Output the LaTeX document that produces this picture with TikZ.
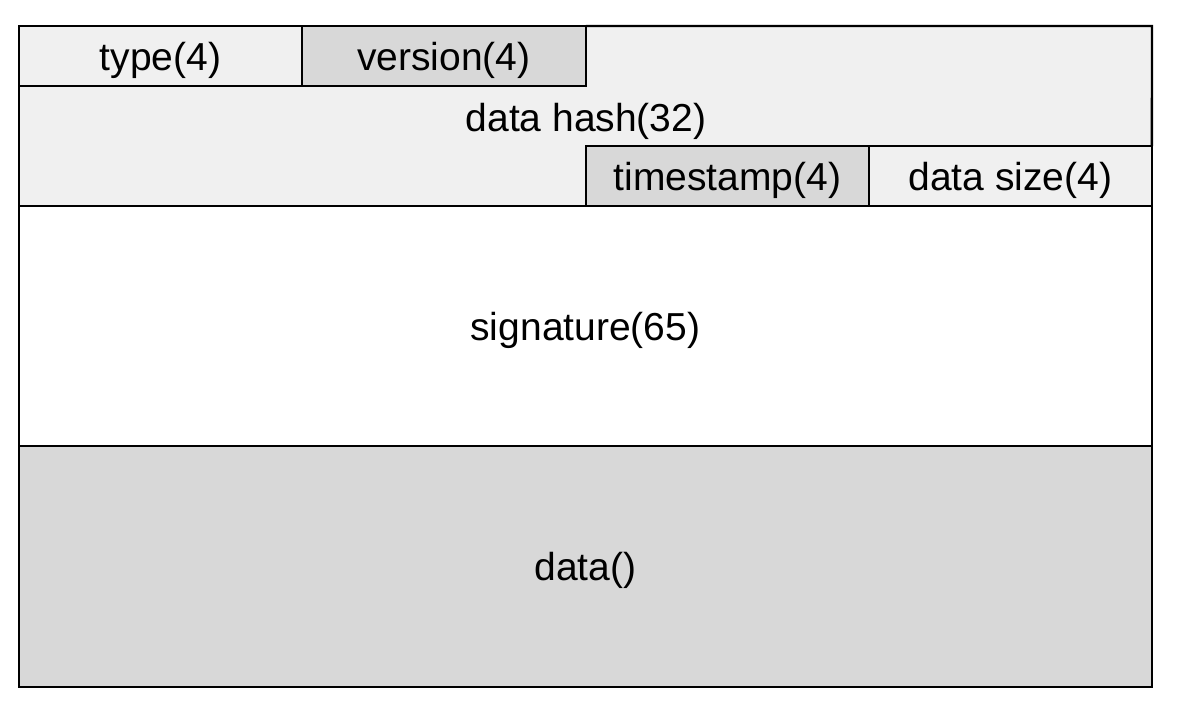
\documentclass[tikz,border=0pt]{standalone}
\usepackage{fontspec}
\setmainfont{Liberation Sans}
\definecolor{lightfield}{HTML}{F0F0F0}
\definecolor{darkfield}{HTML}{D8D8D8}
\tikzstyle{line}=[line width=1.4pt, line join=miter]
\tikzstyle{field}=[draw, line, inner sep=0pt, outer sep=0pt, text depth=0pt, anchor=north west, font=\fontsize{22.2}{26}\selectfont]
\tikzstyle{label}=[inner sep=0pt, text depth=0pt, font=\fontsize{22.2}{26}\selectfont]

\begin{document}
\begin{tikzpicture}[x=0.02cm, y=-0.02cm]
    \useasboundingbox (0,0) rectangle (1180,708);
    % data hash area (L-shaped)
    \fill [lightfield] (586,26) -- (1152,26) -- (1152,146) -- (586,146) -- (586,206)
        -- (19,206) -- (19,86) -- (586,86) -- cycle;
    \node (hash) [label] at (586,117) {data hash(32)};
    \node (type)      [field, fill=lightfield, minimum width=5.66cm, minimum height=1.2cm]  at (19,26)   {type(4)};
    \node (version)   [field, fill=darkfield,  minimum width=5.68cm, minimum height=1.2cm]  at (302,26)  {version(4)};
    \node (timestamp) [field, fill=darkfield,  minimum width=5.66cm, minimum height=1.2cm]  at (586,146) {timestamp(4)};
    \node (size)      [field, fill=lightfield, minimum width=5.66cm, minimum height=1.2cm]  at (869,146) {data size(4)};
    \node (sig)       [field, fill=white,      minimum width=22.66cm, minimum height=4.8cm] at (19,206)  {signature(65)};
    \node (data)      [field, fill=darkfield,  minimum width=22.66cm, minimum height=4.82cm] at (19,446) {data()};
    \draw [line] (version.north east) -- (1152,26) -- (size.north east);
    \draw [line] (type.south west) -- (sig.north west);
\end{tikzpicture}
\end{document}
